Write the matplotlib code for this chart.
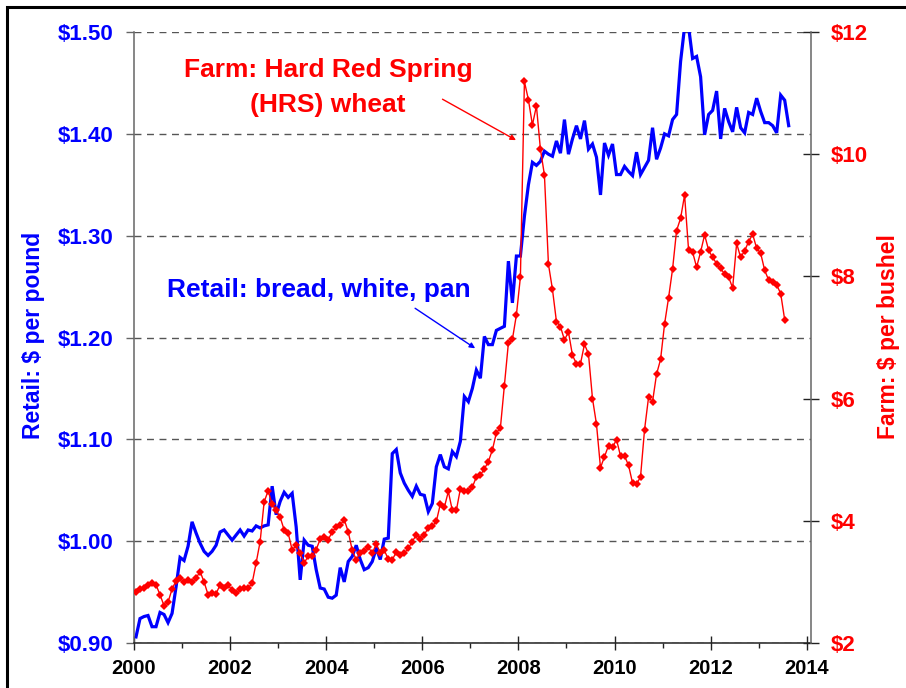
import numpy as np
import matplotlib.pyplot as plt
from matplotlib.patches import Rectangle
from matplotlib.ticker import FuncFormatter, MultipleLocator

plt.rcParams['font.family'] = ['Liberation Sans', 'DejaVu Sans']
plt.rcParams['font.weight'] = 'bold'

# monthly values, Jan 2000 onwards
retail = [0.906, 0.924, 0.926, 0.927, 0.916, 0.916, 0.930, 0.928, 0.920, 0.929,
          0.955, 0.984, 0.981, 0.995, 1.019, 1.008, 0.998, 0.990, 0.986, 0.990,
          0.996, 1.009, 1.011, 1.006, 1.001, 1.006, 1.011, 1.005, 1.011, 1.010,
          1.015, 1.013, 1.015, 1.016, 1.054, 1.026, 1.039, 1.048, 1.043, 1.047,
          1.014, 0.962, 1.001, 0.996, 0.995, 0.972, 0.954, 0.953, 0.945, 0.944,
          0.947, 0.974, 0.960, 0.980, 0.985, 0.996, 0.982, 0.972, 0.974, 0.980,
          0.993, 0.982, 1.002, 1.003, 1.086, 1.090, 1.067, 1.057, 1.050, 1.044,
          1.054, 1.046, 1.045, 1.029, 1.037, 1.073, 1.085, 1.073, 1.071, 1.088,
          1.083, 1.098, 1.142, 1.137, 1.150, 1.168, 1.160, 1.201, 1.193, 1.193,
          1.207, 1.209, 1.211, 1.275, 1.234, 1.280, 1.280, 1.319, 1.350, 1.372,
          1.369, 1.373, 1.383, 1.380, 1.378, 1.393, 1.381, 1.414, 1.380, 1.395,
          1.408, 1.395, 1.413, 1.385, 1.390, 1.377, 1.340, 1.391, 1.379, 1.390,
          1.360, 1.360, 1.368, 1.363, 1.359, 1.382, 1.360, 1.367, 1.374, 1.406,
          1.375, 1.386, 1.400, 1.398, 1.414, 1.419, 1.471, 1.505, 1.505, 1.474,
          1.476, 1.456, 1.399, 1.419, 1.423, 1.442, 1.395, 1.425, 1.412, 1.402,
          1.426, 1.406, 1.401, 1.421, 1.419, 1.435, 1.422, 1.411, 1.411, 1.408,
          1.401, 1.438, 1.433, 1.408]

farm = [2.84, 2.88, 2.90, 2.95, 2.99, 2.95, 2.79, 2.61, 2.67, 2.88,
        3.02, 3.06, 3.00, 3.03, 3.00, 3.06, 3.17, 3.00, 2.79, 2.82,
        2.81, 2.95, 2.90, 2.95, 2.86, 2.82, 2.88, 2.90, 2.90, 2.98,
        3.31, 3.66, 4.31, 4.49, 4.27, 4.17, 4.06, 3.85, 3.80, 3.52,
        3.60, 3.47, 3.31, 3.42, 3.42, 3.53, 3.70, 3.74, 3.69, 3.82,
        3.90, 3.93, 4.02, 3.82, 3.52, 3.36, 3.48, 3.51, 3.57, 3.47,
        3.62, 3.48, 3.52, 3.37, 3.36, 3.49, 3.44, 3.47, 3.55, 3.66,
        3.77, 3.71, 3.77, 3.89, 3.91, 3.99, 4.27, 4.22, 4.48, 4.17,
        4.17, 4.52, 4.49, 4.49, 4.55, 4.72, 4.75, 4.85, 4.97, 5.16,
        5.44, 5.52, 6.21, 6.91, 6.97, 7.37, 7.99, 11.19, 10.89, 10.48,
        10.79, 10.08, 9.66, 8.20, 7.79, 7.26, 7.18, 6.96, 7.09, 6.71,
        6.57, 6.57, 6.89, 6.73, 6.00, 5.58, 4.87, 5.05, 5.23, 5.20,
        5.33, 5.06, 5.06, 4.91, 4.62, 4.60, 4.72, 5.49, 6.02, 5.95,
        6.40, 6.64, 7.22, 7.65, 8.12, 8.75, 8.95, 9.33, 8.43, 8.40,
        8.15, 8.40, 8.68, 8.43, 8.31, 8.21, 8.13, 8.04, 7.99, 7.81,
        8.54, 8.31, 8.42, 8.57, 8.69, 8.46, 8.38, 8.10, 7.94, 7.91,
        7.86, 7.72, 7.29]

retail_ticks = [0.90, 1.00, 1.10, 1.20, 1.30, 1.40, 1.50]
farm_ticks = [2, 4, 6, 8, 10, 12]
year_ticks = [2000, 2002, 2004, 2006, 2008, 2010, 2012, 2014]

# mid-month positions in decimal years
t_retail = 2000 + (np.arange(len(retail)) + 0.5) / 12
t_farm = 2000 + (np.arange(len(farm)) + 0.5) / 12

BLUE = '#0000ff'
RED = '#ff0000'

fig = plt.figure(figsize=(9.06, 6.88), dpi=100)
ax = fig.add_axes([134 / 906, 45 / 688, 676.7 / 906, 611 / 688])
ax2 = ax.twinx()

ax.plot(t_retail, retail, color=BLUE, lw=2.3, solid_joinstyle='miter')
ax2.plot(t_farm, farm, color=RED, lw=1.0, marker='D', markersize=4.2,
         markeredgewidth=0)

ax.set_xlim(2000, 2014.083)
ax.set_ylim(0.90, 1.50)
ax2.set_ylim(2, 12)

ax.set_xticks(year_ticks)
ax.xaxis.set_minor_locator(MultipleLocator(1))
ax.set_yticks(retail_ticks)
ax2.set_yticks(farm_ticks)
ax.yaxis.set_major_formatter(FuncFormatter(lambda v, p: '\\$%.2f' % v))
ax2.yaxis.set_major_formatter(FuncFormatter(lambda v, p: '\\$%d' % v))

ax.yaxis.grid(True, linestyle=(0, (5, 4)), color='#555555', lw=1.0)

for s in ['top', 'right']:
    ax.spines[s].set_visible(False)
for s in ['top', 'left', 'bottom']:
    ax2.spines[s].set_visible(False)
ax.spines['left'].set_color('#666666')
ax.spines['left'].set_linewidth(1.1)
ax2.spines['right'].set_color('#666666')
ax2.spines['right'].set_linewidth(1.1)
ax.spines['bottom'].set_color('#222222')
ax.spines['bottom'].set_linewidth(1.1)

ax.tick_params(axis='y', direction='out', length=6, width=1, color='#666666',
               labelcolor=BLUE, labelsize=16, pad=9)
ax2.tick_params(axis='y', direction='inout', length=11, width=1, color='#222222',
                labelcolor=RED, labelsize=16, pad=9)
ax.tick_params(axis='x', which='major', direction='inout', length=9.5, width=1,
               color='#222222', labelsize=14.5, pad=7)
ax.tick_params(axis='x', which='minor', direction='out', length=3.6, width=1,
               color='#222222')
for lab in ax.get_xticklabels() + ax.get_yticklabels() + ax2.get_yticklabels():
    lab.set_fontweight('bold')

# series labels and arrows
ax2.text(2004.04, 11.258, 'Farm: Hard Red Spring', color=RED, fontsize=19,
         fontweight='bold', ha='center', va='baseline')
ax2.text(2004.04, 10.696, '(HRS) wheat', color=RED, fontsize=19,
         fontweight='bold', ha='center', va='baseline')
ax2.annotate('', xy=(2007.95, 10.23), xytext=(2006.42, 10.90),
             arrowprops=dict(arrowstyle='-|>', color=RED, lw=1.0,
                             mutation_scale=8, shrinkA=0, shrinkB=0))

ax.text(2003.84, 1.2401, 'Retail: bread, white, pan', color=BLUE, fontsize=19,
        fontweight='bold', ha='center', va='baseline')
ax.annotate('', xy=(2007.10, 1.1894), xytext=(2005.85, 1.2287),
            arrowprops=dict(arrowstyle='-|>', color=BLUE, lw=1.0,
                            mutation_scale=8, shrinkA=0, shrinkB=0))

fig.text(34 / 906, 1 - 335 / 688, 'Retail: \\$ per pound', rotation=90,
         color=BLUE, fontsize=16.5, fontweight='bold', ha='center', va='center')
fig.text(888 / 906, 1 - 337 / 688, 'Farm: \\$ per bushel', rotation=90,
         color=RED, fontsize=16.5, fontweight='bold', ha='center', va='center')

# outer frame (runs off the right and bottom edges)
fig.add_artist(Rectangle((7 / 906, -0.05), 1.2, 1.05 - 7 / 688, fill=False,
                         lw=2.2, edgecolor='black', transform=fig.transFigure))

fig.savefig('out.png', dpi=100)
